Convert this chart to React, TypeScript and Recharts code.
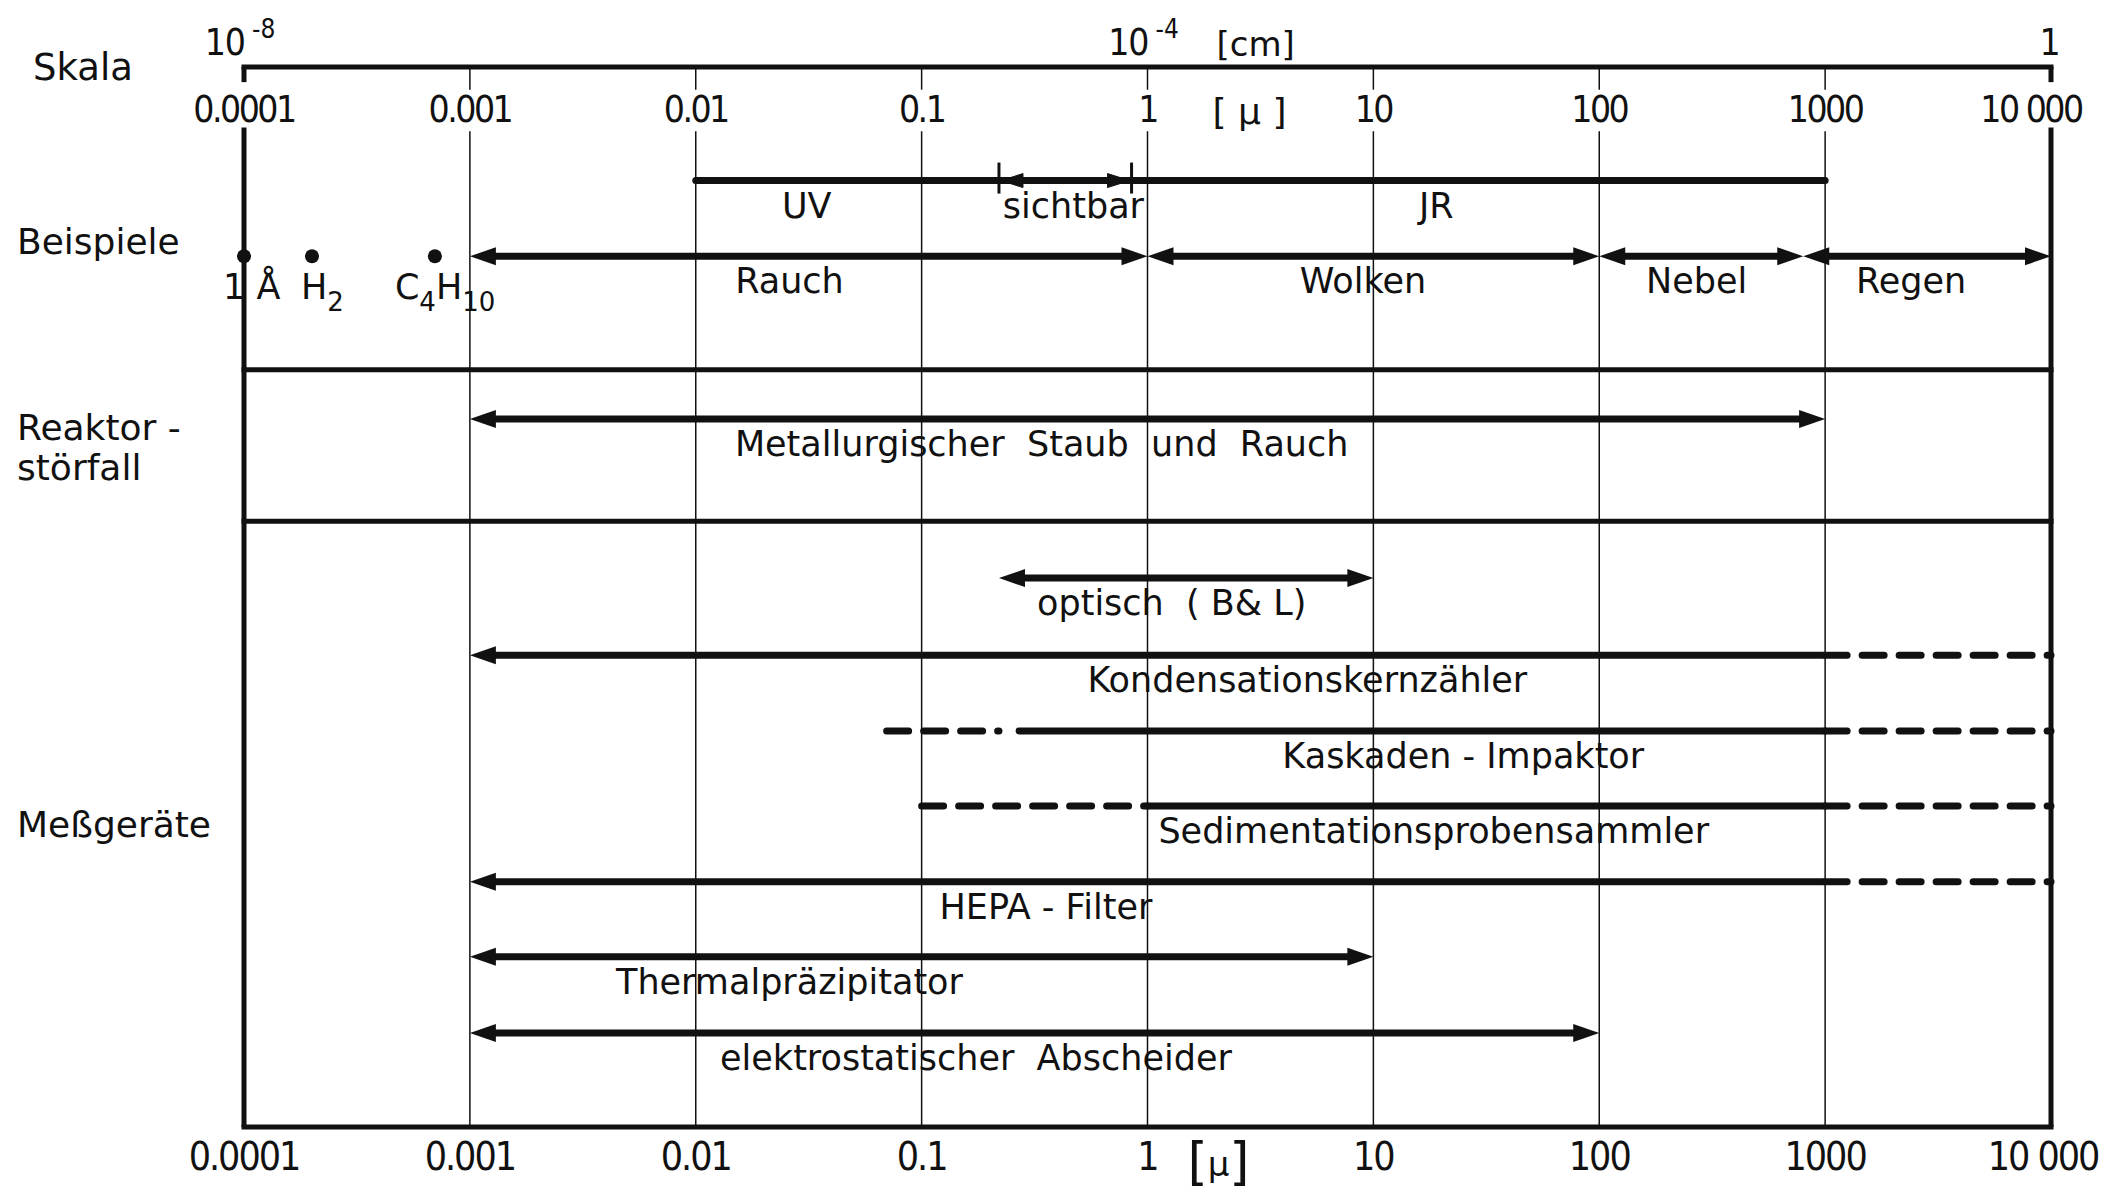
import React from 'react';
import { ComposedChart, XAxis, YAxis, ReferenceLine, ReferenceDot, Scatter } from 'recharts';

// particle diameter in µ, one tick per decade
const decades = [0.0001, 0.001, 0.01, 0.1, 1, 10, 100, 1000, 10000];
const decadeLabels = ['0.0001', '0.001', '0.01', '0.1', '1', '10', '100', '1000', '10 000'];

// the same scale in cm, printed above the frame
const cmTicks = [0.0001, 1, 10000];
const cmBase = ['10', '10', '1'];
const cmExp = ['-8', '-4', ''];

// section captions on the left and the rows they belong to
const sectionRows = [0, 2.3, 5, 10];
const sectionNames = [['Skala'], ['Beispiele'], ['Reaktor -', 'störfall'], ['Meßgeräte']];
const dividerRows = [4, 6];

// single molecules on the examples row
const molecules = [
  { size: 0.0001, row: 2.5, parts: [['1 Å', '']] },
  { size: 0.0002, row: 2.5, parts: [['H', '2']] },
  { size: 0.0007, row: 2.5, parts: [['C', '4'], ['H', '10']] },
];

type Span = { row: number; from: number; to: number; sure: boolean; ends: 'both' | 'left' | 'none' };

// size ranges; "sure" = proven range, otherwise possible extension
const spans: Span[] = [
  { row: 1.5, from: 0.01, to: 1000, sure: true, ends: 'none' },
  { row: 2.5, from: 0.001, to: 1, sure: true, ends: 'both' },
  { row: 2.5, from: 1, to: 100, sure: true, ends: 'both' },
  { row: 2.5, from: 100, to: 800, sure: true, ends: 'both' },
  { row: 2.5, from: 800, to: 10000, sure: true, ends: 'both' },
  { row: 4.65, from: 0.001, to: 1000, sure: true, ends: 'both' },
  { row: 6.75, from: 0.22, to: 10, sure: true, ends: 'both' },
  { row: 7.77, from: 0.001, to: 1000, sure: true, ends: 'left' },
  { row: 7.77, from: 1000, to: 10000, sure: false, ends: 'none' },
  { row: 8.77, from: 0.07, to: 0.22, sure: false, ends: 'none' },
  { row: 8.77, from: 0.27, to: 1000, sure: true, ends: 'none' },
  { row: 8.77, from: 1000, to: 10000, sure: false, ends: 'none' },
  { row: 9.76, from: 0.1, to: 1, sure: false, ends: 'none' },
  { row: 9.76, from: 1, to: 1000, sure: true, ends: 'none' },
  { row: 9.76, from: 1000, to: 10000, sure: false, ends: 'none' },
  { row: 10.76, from: 0.001, to: 1000, sure: true, ends: 'left' },
  { row: 10.76, from: 1000, to: 10000, sure: false, ends: 'none' },
  { row: 11.75, from: 0.001, to: 10, sure: true, ends: 'both' },
  { row: 12.76, from: 0.001, to: 100, sure: true, ends: 'both' },
];

// visible light inside the UV/IR band
const visible = { row: 1.5, from: 0.22, to: 0.85 };

const spanLabels = [
  { text: 'UV', row: 1.5, at: 0.031 },
  { text: 'sichtbar', row: 1.5, at: 0.47 },
  { text: 'JR', row: 1.5, at: 19 },
  { text: 'Rauch', row: 2.5, at: 0.026 },
  { text: 'Wolken', row: 2.5, at: 9 },
  { text: 'Nebel', row: 2.5, at: 270 },
  { text: 'Regen', row: 2.5, at: 2400 },
  { text: 'Metallurgischer  Staub  und  Rauch', row: 4.65, at: 0.34 },
  { text: 'optisch  ( B& L)', row: 6.75, at: 1.28 },
  { text: 'Kondensationskernzähler', row: 7.77, at: 5.1 },
  { text: 'Kaskaden - Impaktor', row: 8.77, at: 25 },
  { text: 'Sedimentationsprobensammler', row: 9.76, at: 18.5 },
  { text: 'HEPA - Filter', row: 10.76, at: 0.355 },
  { text: 'Thermalpräzipitator', row: 11.75, at: 0.026 },
  { text: 'elektrostatischer  Abscheider', row: 12.76, at: 0.174 },
];

const textFont = "'DejaVu Sans', sans-serif";
const numFont = "'DejaVu Sans Condensed', 'DejaVu Sans', sans-serif";
const ink = '#111';

const sameValue = (a: number, b: number) => Math.abs(Math.log10(a) - Math.log10(b)) < 1e-6;

// labels above the top frame line: µ decades and the cm scale
const TopLabels = (props: any) => {
  const { cx: x, cy: y, value } = props;
  const i = decades.findIndex((d) => sameValue(d, value));
  const c = cmTicks.findIndex((d) => sameValue(d, value));
  const last = i === decades.length - 1;
  return (
    <g fill={ink}>
      <text
        x={last ? x - 20 : x}
        y={y + 55}
        textAnchor="middle"
        fontFamily={numFont}
        fontSize={37}
        letterSpacing={-2.5}
        style={{ whiteSpace: 'pre' }}
      >
        {decadeLabels[i]}
      </text>
      {c >= 0 && cmExp[c] !== '' && (
        <>
          <text x={x + 1} y={y - 12} textAnchor="end" fontFamily={numFont} fontSize={37} letterSpacing={-1}>
            {cmBase[c]}
          </text>
          <text x={x + 8} y={y - 29} fontFamily={numFont} fontSize={26}>
            {cmExp[c]}
          </text>
        </>
      )}
      {c >= 0 && cmExp[c] === '' && (
        <text x={x - 1} y={y - 12} textAnchor="middle" fontFamily={numFont} fontSize={37}>
          {cmBase[c]}
        </text>
      )}
      {sameValue(value, 1) && (
        <>
          <text x={x + 69} y={y - 11} fontFamily={textFont} fontSize={34}>[cm]</text>
          <text x={x + 102} y={y + 57} textAnchor="middle" fontFamily={textFont} fontSize={36} style={{ whiteSpace: 'pre' }}>
            {'[ µ ]'}
          </text>
        </>
      )}
    </g>
  );
};

const BottomTick = (props: any) => {
  const { x, y, payload } = props;
  const i = decades.findIndex((d) => sameValue(d, payload.value));
  const last = i === decades.length - 1;
  return (
    <g fill={ink}>
      <text
        x={last ? x - 8 : x}
        y={y + 43}
        textAnchor="middle"
        fontFamily={numFont}
        fontSize={39}
        letterSpacing={-2}
        style={{ whiteSpace: 'pre' }}
      >
        {decadeLabels[i]}
      </text>
      {sameValue(payload.value, 1) && (
        <text x={x + 71} y={y + 52} textAnchor="middle" fontFamily={textFont}>
          <tspan fontSize={52}>[</tspan>
          <tspan fontSize={34} dy={-3}>µ</tspan>
          <tspan fontSize={52} dy={3}>]</tspan>
        </text>
      )}
    </g>
  );
};

const SectionTick = (props: any) => {
  const { x, y, payload } = props;
  const i = sectionRows.indexOf(payload.value);
  const lines = sectionNames[i] || [];
  const top = lines.length > 1 ? y - 6 : y + 13;
  const left = i === 0 ? x - 211 : x - 227;
  return (
    <g>
      {lines.map((l, k) => (
        <text key={k} x={left} y={top + k * 40} fontFamily={textFont} fontSize={i === 0 ? 37 : 36} fill={ink}>
          {l}
        </text>
      ))}
    </g>
  );
};

const HEAD = 26;
const HALF = 9;

const SpanShape = (props: any) => {
  const { x1, y1, x2, sure, ends } = props;
  const left = ends === 'both' || ends === 'left';
  const right = ends === 'both';
  const a = left ? x1 + HEAD - 4 : x1;
  const b = right ? x2 - HEAD + 4 : x2;
  return (
    <g>
      <line
        x1={a}
        y1={y1}
        x2={b}
        y2={y1}
        stroke={ink}
        strokeWidth={7}
        strokeDasharray={sure ? undefined : '22 15'}
        strokeLinecap={sure && (left || right) ? 'butt' : 'round'}
      />
      {left && <path d={`M${x1},${y1} L${x1 + HEAD},${y1 - HALF} L${x1 + HEAD},${y1 + HALF} Z`} fill={ink} />}
      {right && <path d={`M${x2},${y1} L${x2 - HEAD},${y1 - HALF} L${x2 - HEAD},${y1 + HALF} Z`} fill={ink} />}
    </g>
  );
};

const VisibleShape = (props: any) => {
  const { x1, y1, x2 } = props;
  return (
    <g stroke={ink} fill={ink}>
      <line x1={x1} y1={y1 - 18} x2={x1} y2={y1 + 13} strokeWidth={3} />
      <line x1={x2} y1={y1 - 18} x2={x2} y2={y1 + 13} strokeWidth={3} />
      <path d={`M${x1 + 2},${y1} L${x1 + 24},${y1 - 7} L${x1 + 24},${y1 + 7} Z`} strokeWidth={1} />
      <path d={`M${x2 - 2},${y1} L${x2 - 24},${y1 - 7} L${x2 - 24},${y1 + 7} Z`} strokeWidth={1} />
    </g>
  );
};

const MoleculeDot = (props: any) => {
  const { cx, cy, payload } = props;
  const parts: string[][] = payload.parts;
  const dx = parts[0][0] === '1 Å' ? -21 : parts.length > 1 ? -40 : -11;
  return (
    <g fill={ink}>
      <circle cx={cx} cy={cy} r={7} />
      <text x={cx + dx} y={cy + 43} fontFamily={textFont} fontSize={35} style={{ whiteSpace: 'pre' }}>
        {parts.map(([main, sub], k) => (
          <React.Fragment key={k}>
            <tspan dy={k > 0 ? -12 : 0}>{main}</tspan>
            {sub && (
              <tspan fontSize={26} dy={12}>
                {sub}
              </tspan>
            )}
          </React.Fragment>
        ))}
      </text>
    </g>
  );
};

const vLine = (x: number, from: number, to: number, width: number, key: string) => (
  <ReferenceLine
    key={key}
    ifOverflow="visible"
    segment={[{ x, y: from }, { x, y: to }]}
    stroke={ink}
    strokeWidth={width}
  />
);

const hLine = (row: number, key: string) => (
  <ReferenceLine
    key={key}
    ifOverflow="visible"
    segment={[{ x: 0.0001, y: row }, { x: 10000, y: row }]}
    stroke={ink}
    strokeWidth={5}
    strokeLinecap="square"
  />
);

export default function App() {
  const inner = decades.slice(1, -1);
  const edges = [decades[0], decades[decades.length - 1]];
  return (
    <div style={{ position: 'absolute', left: 0, top: 0, width: 2106, height: 1193, background: '#fff' }}>
      <ComposedChart width={2106} height={1193} margin={{ top: 67, right: 55, bottom: 0, left: 0 }}>
        <XAxis
          dataKey="size"
          type="number"
          scale="log"
          domain={[0.0001, 10000]}
          ticks={decades}
          interval={0}
          height={66}
          tickSize={0}
          tickMargin={0}
          axisLine={false}
          tickLine={false}
          tick={<BottomTick />}
        />
        <YAxis
          dataKey="row"
          type="number"
          domain={[0, 14]}
          reversed
          ticks={sectionRows}
          interval={0}
          width={244}
          tickSize={0}
          tickMargin={0}
          axisLine={false}
          tickLine={false}
          tick={<SectionTick />}
        />

        {inner.map((d) => vLine(d, 0, 0.3, 1.5, `ga${d}`))}
        {inner.map((d) => vLine(d, 0.85, 14, 1.5, `gb${d}`))}
        {edges.map((d) => vLine(d, 0, 0.2, 5, `ea${d}`))}
        {edges.map((d) => vLine(d, 0.8, 14, 5, `eb${d}`))}
        {hLine(0, 'top')}
        {hLine(14, 'bottom')}
        {dividerRows.map((r) => hLine(r, `div${r}`))}

        {decades.map((d) => (
          <ReferenceDot
            key={`top${d}`}
            x={d}
            y={0}
            r={0}
            ifOverflow="visible"
            shape={(p: any) => <TopLabels {...p} value={d} />}
          />
        ))}

        {spans.map((s, i) => (
          <ReferenceLine
            key={`span${i}`}
            ifOverflow="visible"
            segment={[{ x: s.from, y: s.row }, { x: s.to, y: s.row }]}
            shape={(p: any) => <SpanShape {...p} sure={s.sure} ends={s.ends} />}
          />
        ))}
        <ReferenceLine
          ifOverflow="visible"
          segment={[{ x: visible.from, y: visible.row }, { x: visible.to, y: visible.row }]}
          shape={(p: any) => <VisibleShape {...p} />}
        />

        {spanLabels.map((l, i) => (
          <ReferenceDot
            key={`lab${i}`}
            x={l.at}
            y={l.row}
            r={0}
            ifOverflow="visible"
            shape={(p: any) => (
              <text
                x={p.cx}
                y={p.cy + 37}
                textAnchor="middle"
                fontFamily={textFont}
                fontSize={35}
                fill={ink}
                style={{ whiteSpace: 'pre' }}
              >
                {l.text}
              </text>
            )}
          />
        ))}

        <Scatter data={molecules} isAnimationActive={false} shape={<MoleculeDot />} />
      </ComposedChart>
    </div>
  );
}
